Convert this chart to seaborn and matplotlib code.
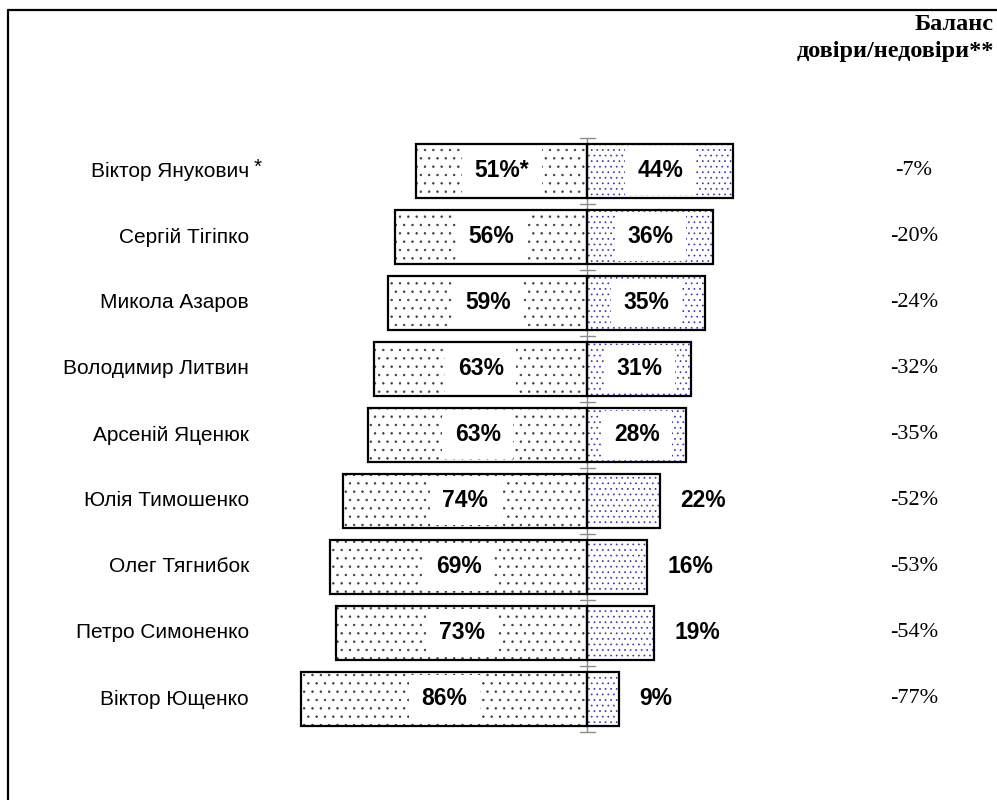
import matplotlib
matplotlib.use("Agg")
import matplotlib.pyplot as plt
import seaborn as sns
import pandas as pd
from matplotlib.lines import Line2D

# ---- data ----
names = ["Віктор Янукович", "Сергій Тігіпко", "Микола Азаров", "Володимир Литвин",
         "Арсеній Яценюк", "Юлія Тимошенко", "Олег Тягнибок", "Петро Симоненко",
         "Віктор Ющенко"]
# bar lengths as drawn
distrust_len = [51.4, 57.7, 59.8, 64.0, 65.8, 73.3, 77.2, 75.4, 85.9]
trust_len = [43.8, 37.8, 35.4, 31.2, 29.7, 21.9, 18.0, 20.1, 9.6]
# printed labels
distrust_labels = ["51%*", "56%", "59%", "63%", "63%", "74%", "69%", "73%", "86%"]
trust_labels = ["44%", "36%", "35%", "31%", "28%", "22%", "16%", "19%", "9%"]
balance_labels = ["-7%", "-20%", "-24%", "-32%", "-35%", "-52%", "-53%", "-54%", "-77%"]
header_lines = ["Баланс", "довіри/недовіри**"]

sns.set_theme(style="white")
plt.rcParams["font.family"] = ["Liberation Sans", "DejaVu Sans"]
plt.rcParams["hatch.linewidth"] = 0.5

W, H = 997, 800
fig = plt.figure(figsize=(W / 100, H / 100), dpi=100)
ax = fig.add_axes([0, 0, 1, 1])

df = pd.DataFrame({"name": names,
                   "neg": [-v for v in distrust_len],
                   "pos": trust_len})

bw = 0.83
# hatched fills
sns.barplot(data=df, x="neg", y="name", orient="h", color="white",
            edgecolor="#3a3a3a", hatch="..", linewidth=0, width=bw,
            errorbar=None, saturation=1, ax=ax, zorder=2)
sns.barplot(data=df, x="pos", y="name", orient="h", color="white",
            edgecolor="#3434b4", hatch="...", linewidth=0, width=bw,
            errorbar=None, saturation=1, ax=ax, zorder=2)
# outlines
sns.barplot(data=df, x="neg", y="name", orient="h", color="black", fill=False,
            linewidth=1.6, width=bw, errorbar=None, ax=ax, zorder=3)
sns.barplot(data=df, x="pos", y="name", orient="h", color="black", fill=False,
            linewidth=1.6, width=bw, errorbar=None, ax=ax, zorder=3)

# pixel mapping: center 587.3 px, 3.33 px per %, rows at 171 + 66*i
cx, sx = 587.3, 3.33
ax.set_xlim(-cx / sx, (W - cx) / sx)
ax.set_ylim((H - 171) / 66.0, -171 / 66.0)
ax.axis("off")

n = len(names)
# central axis with ticks
ax.plot([0, 0], [-0.5, n - 0.5], color="#8c8c8c", lw=1.0, zorder=1)
for k in range(n + 1):
    ax.plot([-2.2, 2.2], [k - 0.5, k - 0.5], color="#8c8c8c", lw=1.0, zorder=1)

sans = ["Liberation Sans", "DejaVu Sans"]
serif = ["Liberation Serif", "DejaVu Serif"]
lab_font = dict(fontsize=16.5, fontweight="bold", color="black", family=sans)
box = dict(boxstyle="square,pad=0.55", facecolor="white", edgecolor="none")
for i in range(n):
    # names
    ax.text((249 - cx) / sx, i, names[i], ha="right", va="center",
            fontsize=15, family=sans, color="black")
    # distrust labels
    ax.text(-distrust_len[i] / 2, i, distrust_labels[i], ha="center", va="center",
            bbox=box, zorder=4, **lab_font)
    # trust labels
    if trust_len[i] >= 25:
        ax.text(trust_len[i] / 2, i, trust_labels[i], ha="center", va="center",
                bbox=box, zorder=4, **lab_font)
    else:
        ax.text(trust_len[i] + 6, i, trust_labels[i], ha="left", va="center",
                zorder=4, **lab_font)
    # balance column
    ax.text((914 - cx) / sx, i, balance_labels[i], ha="center", va="center",
            fontsize=16, family=serif, color="black")

ax.text((262 - cx) / sx, -0.05, "*", ha="right", va="center", fontsize=15,
        family=sans, color="black")

# header
fig.text(994 / W, 1 - 25 / H, header_lines[0], ha="right", va="center",
         fontsize=17.5, fontweight="bold", family=serif, color="black")
fig.text(994 / W, 1 - 51 / H, header_lines[1], ha="right", va="center",
         fontsize=17.5, fontweight="bold", family=serif, color="black")

# frame
fig.add_artist(Line2D([8 / W, 8 / W], [0, 1 - 10 / H], transform=fig.transFigure,
                      color="black", lw=1.6))
fig.add_artist(Line2D([8 / W, 1], [1 - 10 / H, 1 - 10 / H], transform=fig.transFigure,
                      color="black", lw=1.6))

fig.savefig("out.png", dpi=100, facecolor="white")
